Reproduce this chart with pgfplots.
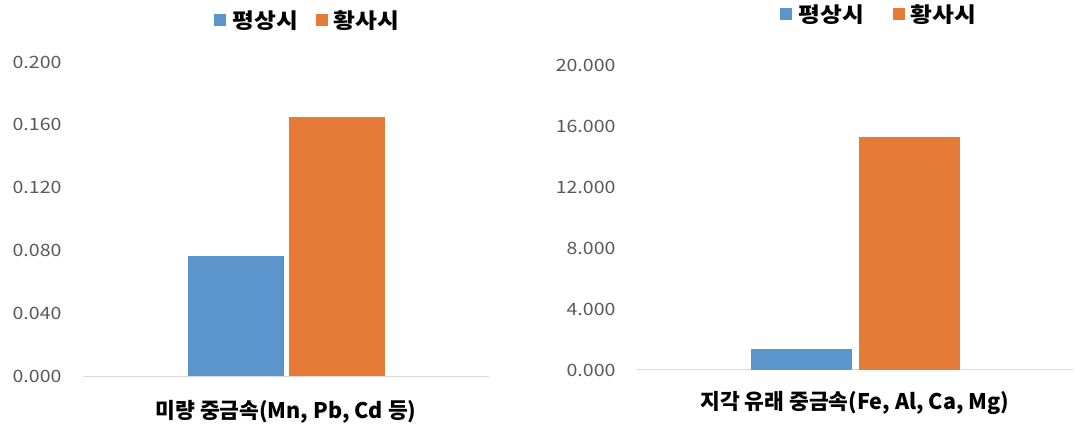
\documentclass[border=0pt]{standalone}
\usepackage{fontspec}
\usepackage{pgfplots}
\pgfplotsset{compat=1.18}
\setmainfont{Noto Sans CJK KR}
\newfontfamily\tickfont{Noto Sans CJK KR}[FakeStretch=1.15]
\newfontfamily\legfont{Noto Sans CJK KR}[FakeStretch=1.13]
\definecolor{cblue}{HTML}{5B95CB}
\definecolor{corange}{HTML}{E57B36}
\definecolor{tickgray}{HTML}{595959}
\definecolor{axgray}{HTML}{D9D9D9}
\pgfplotsset{
 mystyle/.style={
  scale only axis, xmin=-0.5, xmax=0.5, ymin=0,
  axis x line*=bottom, axis y line*=left,
  x axis line style={draw=axgray, line width=1pt, -},
  y axis line style={draw=none},
  major tick length=0pt, xtick=\empty,
  /pgf/number format/assume math mode=true,
  yticklabel style={font=\tickfont\fontsize{17}{20}\selectfont, text=tickgray, anchor=east, xshift=-18pt,
    /pgf/number format/fixed, /pgf/number format/fixed zerofill, /pgf/number format/precision=3},
  xlabel style={font=\bfseries\fontsize{21.5}{24}\selectfont, text=black, at={(axis description cs:0.5,0)}, anchor=center},
  legend columns=2,
  legend style={draw=none, fill=none, font=\legfont\bfseries\fontsize{21}{24}\selectfont, anchor=center,
    /tikz/every odd column/.append style={column sep=4pt}},
 },
 sqlegend/.style={legend image code/.code={\fill[##1] (0pt,-6pt) rectangle (12pt,6pt);}},
}
\begin{document}
\begin{tikzpicture}
\useasboundingbox (0,0) rectangle (1080pt,426pt);
\begin{axis}[mystyle, at={(83pt,50pt)}, anchor=south west, width=406pt, height=314pt,
  ymax=0.2, ytick={0,0.04,0.08,0.12,0.16,0.2},
  bar width=96pt, ybar=5pt, sqlegend,
  xlabel={미량 중금속(Mn, Pb, Cd 등)}, xlabel style={yshift=-36pt},
  legend style={at={(0.554,1.134)}, /tikz/every even column/.append style={column sep=16pt}}]
\addplot[fill=cblue, draw=none] coordinates {(0,0.0764)};
\addlegendentry{평상시}
\addplot[fill=corange, draw=none] coordinates {(0,0.1648)};
\addlegendentry{황사시}
\end{axis}
\begin{axis}[mystyle, at={(637pt,56pt)}, anchor=south west, width=436pt, height=305pt,
  ymax=20, ytick={0,4,8,12,16,20},
  bar width=101pt, ybar=7pt, sqlegend,
  xlabel={지각 유래 중금속(Fe, Al, Ca, Mg)}, xlabel style={yshift=-33pt},
  legend style={at={(0.556,1.167)}, /tikz/every even column/.append style={column sep=27pt}}]
\addplot[fill=cblue, draw=none] coordinates {(0,1.36)};
\addlegendentry{평상시}
\addplot[fill=corange, draw=none] coordinates {(0,15.26)};
\addlegendentry{황사시}
\end{axis}
\end{tikzpicture}
\end{document}
